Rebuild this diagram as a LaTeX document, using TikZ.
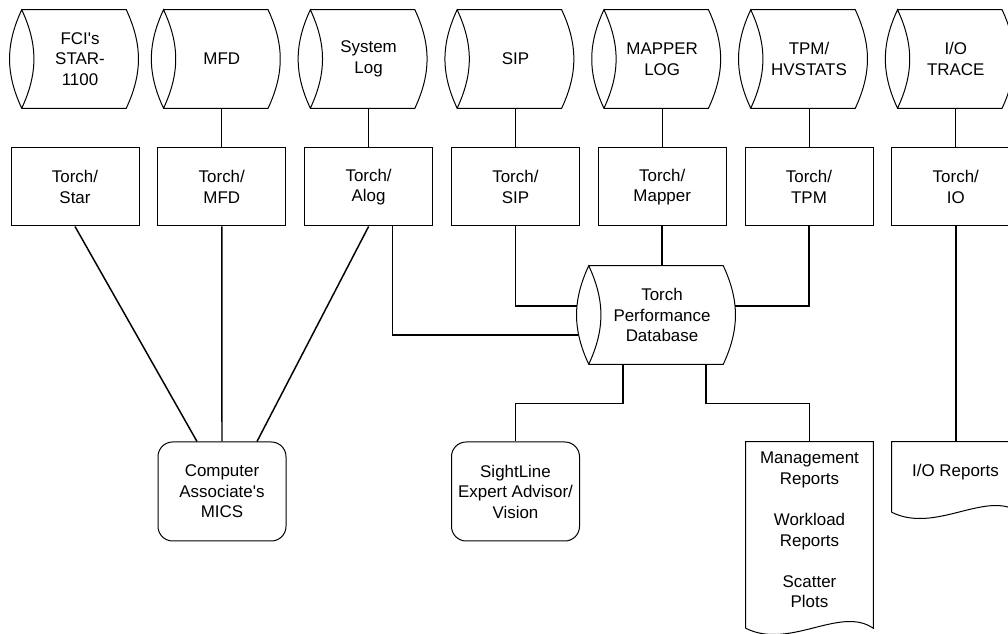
\documentclass[tikz,border=0pt]{standalone}
\usepackage{fontspec}
\newfontfamily\diagfont{Liberation Sans}
\usetikzlibrary{calc}
\begin{document}
\begin{tikzpicture}[
				x=0.75pt, y=-0.75pt,
				font=\diagfont\fontsize{12.7pt}{15.4pt}\selectfont,
				drum/.style={minimum width=69pt, minimum height=73.5pt, inner sep=0pt, align=center},
				torch/.style={rectangle, draw, line width=0.75pt, minimum width=96pt, minimum height=58.5pt, inner sep=0pt, align=center},
				tool/.style={rectangle, draw, line width=0.75pt, rounded corners=11pt, minimum width=96pt, minimum height=74.25pt, inner sep=0pt, align=center},
				report/.style={minimum width=95.25pt, inner sep=0pt, align=center},
				outline/.style={line width=0.75pt},
				link/.style={line width=1.1pt}
				]
				\useasboundingbox (0,0) rectangle (1008,634);
				\node[drum] (dstar) at (80,59) {FCI's\\STAR-\\1100};
				\node[drum] (dmfd) at (221.8,59) {MFD};
				\node[drum] (dlog) at (368.6,59) {System\\Log};
				\node[drum] (dsip) at (515.4,59) {SIP};
				\node[drum] (dmapper) at (662.2,59) {MAPPER\\LOG};
				\node[drum] (dtpm) at (809,59) {TPM/\\HVSTATS};
				\node[drum] (dio) at (955.8,59) {I/O\\TRACE};
				\node[torch] (tstar) at (75,187) {Torch/\\Star};
				\node[torch] (tmfd) at (221.8,187) {Torch/\\MFD};
				\node[torch] (tlog) at (368.6,187) {Torch/\\Alog};
				\node[torch] (tsip) at (515.4,187) {Torch/\\SIP};
				\node[torch] (tmapper) at (662.2,187) {Torch/\\Mapper};
				\node[torch] (ttpm) at (809,187) {Torch/\\TPM};
				\node[torch] (tio) at (955.8,187) {Torch/\\IO};
				\node[drum, minimum width=91.5pt] (db) at (662,315) {Torch\\Performance\\Database};
				\node[tool] (mics) at (222,491.5) {Computer\\Associate's\\MICS};
				\node[tool] (sight) at (515.5,491.5) {SightLine\\Expert Advisor/\\Vision};
				\node[report, minimum height=132pt] (mgmt) at (809.5,530) {Management\\Reports\\[15.4pt]Workload\\Reports\\[15.4pt]Scatter\\Plots};
				\node[report, minimum height=45pt] (iorep) at (955.5,472) {I/O Reports};
				\foreach \d in {dstar,dmfd,dlog,dsip,dmapper,dtpm,dio,db}
					\draw[outline] ([xshift=-9pt]\d.north west) -- (\d.north east)
						to[bend left=25] (\d.south east)
						-- ([xshift=-9pt]\d.south west)
						to[bend left=25] ([xshift=-9pt]\d.north west)
						to[bend left=25] ([xshift=-9pt]\d.south west);
				\foreach \r in {mgmt,iorep}
					\draw[outline] ([yshift=-7.5pt]\r.south west) -- (\r.north west) -- (\r.north east) -- ([yshift=-7.5pt]\r.south east)
						.. controls +(-24.75pt,17.25pt) and +(33pt,-16.5pt) .. ([yshift=-7.5pt]\r.south west);
				\foreach \n in {mfd,log,sip,mapper,tpm,io}
					\draw[outline] (t\n.north) -- (t\n.north |- d\n.south);
				\draw[link] (tstar.south) -- ($(mics.north)+(-25,0)$);
				\draw[link] (tmfd.south) -- (mics.north);
				\draw[link] (tlog.south) -- ($(mics.north)+(35,0)$);
				\draw[link] ($(tlog.south)+(24,0)$) |- ($(db.west)+(-23,20)$);
				\draw[link] (tsip.south) |- ($(db.west)+(-24,-9)$);
				\draw[link] (tmapper.south) -- (tmapper.south |- db.north);
				\draw[link] (ttpm.south) |- ($(db.east)+(12,-9)$);
				\draw[link] ($(db.south)+(-39,0)$) -- ++(0,39) -| (sight.north);
				\draw[link] ($(db.south)+(44,0)$) -- ++(0,39) -| (mgmt.north);
				\draw[link] (tio.south) -- (tio.south |- iorep.north);
			\end{tikzpicture}
\end{document}
